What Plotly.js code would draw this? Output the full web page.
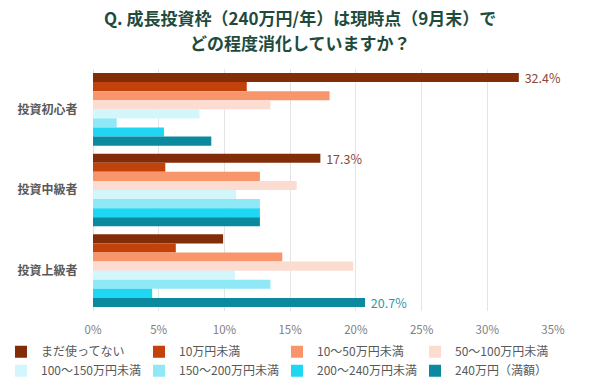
<!DOCTYPE html>
<html><head><meta charset="utf-8">
<script src="https://cdn.plot.ly/plotly-3.0.1.min.js"></script>
<style>html,body{margin:0;padding:0;background:#fff}</style>
</head><body><div id="chart" style="width:600px;height:388px"></div>
<script>
const categories = ['投資初心者', '投資中級者', '投資上級者'];
const seriesNames = ['まだ使ってない', '10万円未満', '10〜50万円未満', '50〜100万円未満', '100〜150万円未満', '150〜200万円未満', '200〜240万円未満', '240万円（満額）'];
const notYet = [32.4, 17.3, 9.9];
const under10 = [11.7, 5.5, 6.3];
const r10to50 = [18.0, 12.7, 14.4];
const r50to100 = [13.5, 15.5, 19.8];
const r100to150 = [8.1, 10.9, 10.8];
const r150to200 = [1.8, 12.7, 13.5];
const r200to240 = [5.4, 12.7, 4.5];
const full240 = [9.0, 12.7, 20.7];
const seriesValues = [notYet, under10, r10to50, r50to100, r100to150, r150to200, r200to240, full240];
const colors = ['#822d08', '#c1430b', '#f8956a', '#fcdcd0', '#d3f6fb', '#8ee8f6', '#1fd7f2', '#0b8a9f'];
const labelColors = ['#8a4a35', '', '', '', '', '', '', '#2a9aa8'];
// which values are labelled: [series index, category index]
const labelled = [[0, 0], [0, 1], [7, 2]];
const titleLines = ['Q. 成長投資枠（240万円/年）は現時点（9月末）で', 'どの程度消化していますか？'];

const font = '"Noto Sans CJK JP", "Noto Sans", sans-serif';
const traces = seriesNames.map((name, i) => {
  const vals = seriesValues[i];
  const text = vals.map((v, j) => labelled.some(p => p[0] === i && p[1] === j) ? ' ' + v.toFixed(1) + '%' : '');
  return {
    type: 'bar', orientation: 'h', name: name,
    y: categories, x: vals,
    marker: {color: colors[i]},
    text: text, textposition: 'outside', cliponaxis: false, constraintext: 'none',
    textfont: {family: font, size: 12.5, color: labelColors[i] || '#666'},
    hoverinfo: 'x+name'
  };
});

const plotTop = 69, plotH = 242;
const titleAnnotations = titleLines.map((line, k) => ({
  text: '<b>' + line + '</b>', xref: 'paper', yref: 'paper',
  x: (300 - 93) / 460, y: 1 + (plotTop - (18 + 24 * k)) / plotH,
  xanchor: 'center', yanchor: 'middle', showarrow: false,
  font: {family: font, size: 17, color: '#1f4b3c'}
}));

const layout = {
  width: 600, height: 388,
  margin: {l: 93, r: 47, t: 69, b: 77, autoexpand: false},
  paper_bgcolor: '#ffffff', plot_bgcolor: '#ffffff',
  font: {family: font, color: '#595959'},
  annotations: titleAnnotations,
  barmode: 'group', bargap: 0.1, bargroupgap: 0,
  xaxis: {
    range: [0, 35], dtick: 5, ticksuffix: '%', automargin: false,
    showgrid: true, gridcolor: '#e4e4e4', gridwidth: 1,
    zeroline: true, zerolinecolor: '#e4e4e4', showline: false,
    ticks: 'outside', ticklen: 8, tickcolor: 'rgba(0,0,0,0)',
    tickfont: {family: font, size: 11.5, color: '#808080'}, fixedrange: true
  },
  yaxis: {
    autorange: 'reversed', type: 'category', automargin: false,
    showgrid: false, zeroline: false, showline: false,
    ticks: 'outside', ticklen: 12, tickcolor: 'rgba(0,0,0,0)',
    tickfont: {family: font, size: 12, color: '#595959', weight: 'bold'}, fixedrange: true
  },
  showlegend: true,
  legend: {
    orientation: 'h', xref: 'paper', yref: 'paper',
    x: (1 - 93) / 460, xanchor: 'left', y: -0.108, yanchor: 'top',
    entrywidth: 93, entrywidthmode: 'pixels', traceorder: 'normal',
    font: {family: font, size: 12, color: '#595959'}, bgcolor: 'rgba(0,0,0,0)'
  }
};
Plotly.newPlot('chart', traces, layout, {displayModeBar: false, staticPlot: true});
</script></body></html>
